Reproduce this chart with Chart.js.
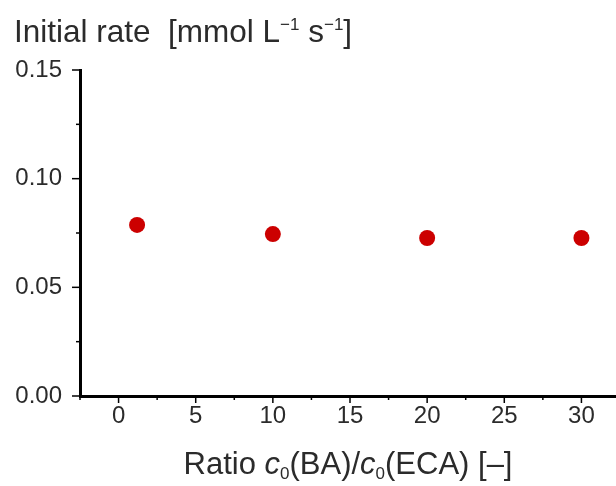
<!DOCTYPE html>
<html>
<head>
<meta charset="utf-8">
<script src="https://cdn.jsdelivr.net/npm/chart.js@4.4.1/dist/chart.umd.min.js"></script>
<style>
    html, body { margin: 0; padding: 0; background: #fff; overflow: hidden; }
</style>
</head>
<body>
<canvas id="myChart" width="628" height="486"></canvas>
<script>
// data
const ratios = [1.2, 10, 20, 30];
const rates = [0.0787, 0.0745, 0.0727, 0.0727];
const xMajorTicks = [0, 5, 10, 15, 20, 25, 30];
const yMajorTicks = [0.00, 0.05, 0.10, 0.15];

const textColor = '#2b2b2b';
const fontFamily = '"Liberation Sans", Arial, sans-serif';

// draw a list of text pieces (for sub/superscripts and italics)
const drawPieces = (ctx, pieces, x, y, align) => {
    let total = 0;
    pieces.forEach(p => {
        ctx.font = p.font;
        p.w = ctx.measureText(p.text).width;
        total += p.w;
    });
    let cx = align === 'center' ? x - total / 2 : x;
    ctx.textAlign = 'left';
    ctx.textBaseline = 'alphabetic';
    pieces.forEach(p => {
        ctx.font = p.font;
        ctx.fillText(p.text, cx, y + (p.dy || 0));
        cx += p.w;
    });
};

const isMajor = (v, list) => list.some(t => Math.abs(t - v) < 1e-6);

const extrasPlugin = {
    id: 'extras',
    afterDraw(chart) {
        const ctx = chart.ctx;
        const area = chart.chartArea;
        const xs = chart.scales.x;
        const ys = chart.scales.y;
        ctx.save();

        // tick marks, major longer than minor
        ctx.strokeStyle = '#000';
        ctx.lineWidth = 1.5;
        xs.ticks.forEach(t => {
            const px = xs.getPixelForValue(t.value);
            const len = isMajor(t.value, xMajorTicks) ? 7 : 4;
            ctx.beginPath();
            ctx.moveTo(px, area.bottom);
            ctx.lineTo(px, area.bottom + len);
            ctx.stroke();
        });
        ys.ticks.forEach(t => {
            const py = ys.getPixelForValue(t.value);
            const len = isMajor(t.value, yMajorTicks) ? 8 : 4;
            ctx.beginPath();
            ctx.moveTo(area.left, py);
            ctx.lineTo(area.left - len, py);
            ctx.stroke();
        });

        ctx.fillStyle = textColor;
        const big = '31.5px ' + fontFamily;
        const sup = '17px ' + fontFamily;
        drawPieces(ctx, [
            { text: 'Initial rate  [mmol L', font: big },
            { text: '\u22121', font: sup, dy: -12 },
            { text: ' s', font: big },
            { text: '\u22121', font: sup, dy: -12 },
            { text: ']', font: big }
        ], 14, 42, 'left');

        const xf = '31px ' + fontFamily;
        const xi = 'italic 31px ' + fontFamily;
        const xsub = '17px ' + fontFamily;
        drawPieces(ctx, [
            { text: 'Ratio ', font: xf },
            { text: 'c', font: xi },
            { text: '0', font: xsub, dy: 5 },
            { text: '(BA)/', font: xf },
            { text: 'c', font: xi },
            { text: '0', font: xsub, dy: 5 },
            { text: '(ECA) [\u2013]', font: xf }
        ], 348, 474, 'center');

        ctx.restore();
    }
};

const ctx = document.getElementById('myChart');
new Chart(ctx, {
    type: 'scatter',
    data: {
        datasets: [{
            label: 'Initial rate',
            data: ratios.map((r, i) => ({ x: r, y: rates[i] })),
            backgroundColor: '#cc0000',
            borderColor: '#cc0000',
            borderWidth: 0,
            pointRadius: 8,
            pointHoverRadius: 8
        }]
    },
    options: {
        responsive: false,
        animation: false,
        events: [],
        layout: {
            padding: { top: 70, right: 0, left: 0, bottom: 0 }
        },
        plugins: {
            legend: { display: false },
            tooltip: { enabled: false }
        },
        scales: {
            x: {
                type: 'linear',
                min: -2.5,
                max: 32.5,
                afterFit: scale => { scale.height = 90; },
                grid: { drawOnChartArea: false, drawTicks: false },
                border: { display: true, color: '#000', width: 3 },
                ticks: {
                    stepSize: 2.5,
                    includeBounds: false,
                    autoSkip: false,
                    maxRotation: 0,
                    padding: 6,
                    color: textColor,
                    font: { family: fontFamily, size: 24 },
                    callback: v => isMajor(v, xMajorTicks) ? String(v) : ''
                }
            },
            y: {
                min: 0,
                max: 0.15,
                afterFit: scale => { scale.width = 80; },
                grid: { drawOnChartArea: false, drawTicks: false },
                border: { display: true, color: '#000', width: 3 },
                ticks: {
                    stepSize: 0.025,
                    autoSkip: false,
                    padding: 18,
                    color: textColor,
                    font: { family: fontFamily, size: 24 },
                    callback: v => isMajor(v, yMajorTicks) ? v.toFixed(2) : ''
                }
            }
        }
    },
    plugins: [extrasPlugin]
});
</script>
</body>
</html>
